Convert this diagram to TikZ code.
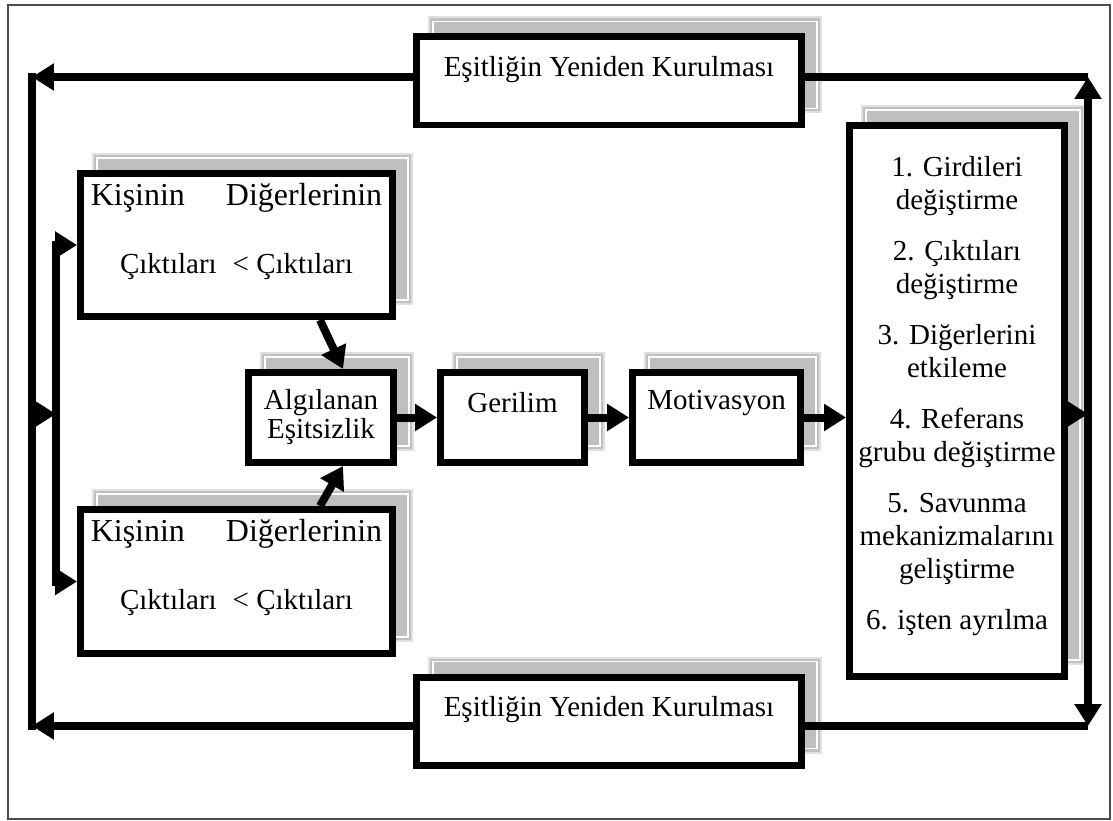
\documentclass[tikz,border=0pt]{standalone}
\usepackage{fontspec}
\setmainfont{Liberation Serif}
\usetikzlibrary{arrows.meta,calc,backgrounds}

\tikzset{
  box/.style={draw, line width=0.14cm, fill=white, inner sep=0pt},
  txt/.style={inner sep=0pt, align=center, font=\fontsize{16.5}{16.5}\selectfont},
  bigtxt/.style={inner sep=0pt, font=\fontsize{18.2}{18.2}\selectfont},
  conn/.style={line width=0.16cm},
  arr/.style={conn, -{Triangle[length=0.44cm,width=0.52cm]}},
  shade/.style={fill=black!25, draw=black!12, line width=0.04cm},
}

\begin{document}
\begin{tikzpicture}[x=0.02cm, y=-0.02cm]

   \def\px{0.02cm} % one pixel of the scan
   \def\yrow{417.5} % middle row
   \def\xkisi{236.5}

   \useasboundingbox (0,0) rectangle (1113,821);
   \draw[black!70, line width=0.03cm] (8,5) rectangle (1110,819);

   % boxes
   \node[box, minimum width=385*\px, minimum height=88*\px] (eqTop) at (609,81) {};
   \node[box, minimum width=385*\px, minimum height=88*\px] (eqBot) at (609,721) {};
   \node[box, minimum width=312*\px, minimum height=143*\px] (kisiA) at (\xkisi,245) {};
   \node[box, minimum width=312*\px, minimum height=144*\px] (kisiB) at (\xkisi,581.5) {};
   \node[box, minimum width=145*\px, minimum height=90*\px] (alg) at (321,\yrow) {};
   \node[box, minimum width=144*\px, minimum height=90*\px] (ger) at (512.5,\yrow) {};
   \node[box, minimum width=168*\px, minimum height=90*\px] (mot) at (716.5,\yrow) {};
   \node[box, minimum width=215*\px, minimum height=551*\px] (rbox) at (957,401) {};

   % shadows behind the boxes
   \begin{scope}[on background layer]
     \foreach \b in {eqTop,eqBot,kisiA,kisiB,alg,ger,mot,rbox} {
       \fill[shade] ($(\b.south west)+(16,-16)$) rectangle ($(\b.north east)+(16,-16)$);
       \draw[white, line width=0.025cm] ($(\b.south west)+(20,-20)$) rectangle ($(\b.north east)+(12,-12)$);
     }
   \end{scope}

   % texts
   \node[txt] (eqTopT) at (609,70) {Eşitliğin Yeniden Kurulması};
   \node[txt] (eqBotT) at (609,710) {Eşitliğin Yeniden Kurulması};
   \node[bigtxt] (kisiA1) at (\xkisi,198) {Kişinin\hspace{0.82cm}Diğerlerinin};
   \node[txt] (kisiA2) at (\xkisi,267) {Çıktıları\hspace{0.32cm}< Çıktıları};
   \node[bigtxt] (kisiB1) at (\xkisi,534) {Kişinin\hspace{0.82cm}Diğerlerinin};
   \node[txt] (kisiB2) at (\xkisi,603) {Çıktıları\hspace{0.32cm}< Çıktıları};
   \node[txt] (algT) at (321,\yrow) {Algılanan\\Eşitsizlik};
   \node[txt] (gerT) at (512.5,403) {Gerilim};
   \node[txt] (motT) at (716.5,403) {Motivasyon};
   \node[txt, font=\fontsize{16.5}{18.8}\selectfont] (rboxT) at (957,396)
     {1. Girdileri\\değiştirme\\[0.36cm]
      2. Çıktıları\\değiştirme\\[0.36cm]
      3. Diğerlerini\\etkileme\\[0.36cm]
      4. Referans\\grubu değiştirme\\[0.36cm]
      5. Savunma\\mekanizmalarını\\geliştirme\\[0.36cm]
      6. işten ayrılma};

   % corners of the feedback loops
   \coordinate (tl) at (32,77);
   \coordinate (bl) at (32,726);
   \coordinate (ml) at (32,414);
   \coordinate (mi) at (56,414);
   \coordinate (tr) at (1088,77);
   \coordinate (br) at (1088,726);
   \coordinate (mr) at (1088,414);

   % middle row
   \draw[arr] ([xshift=83.5*\px]kisiA.south) -- ([xshift=22*\px]alg.north);
   \draw[arr] ([xshift=83.5*\px]kisiB.north) -- ([xshift=22*\px]alg.south);
   \draw[arr] (alg.east) -- (ger.west);
   \draw[arr] (ger.east) -- (mot.west);
   \draw[arr] (mot.east) -- (mot.east -| rbox.west);

   % left loop
   \draw[arr] (eqTop.west |- tl) -- (tl);
   \draw[arr] (eqBot.west |- bl) -- (bl);
   \draw[conn, line cap=rect] (tl) -- (bl);
   \draw[arr] (ml) -- (mi);
   \draw[conn, line cap=rect] (mi |- kisiA.west) -- (mi |- kisiB.west);
   \draw[arr] (mi |- kisiA.west) -- (kisiA.west);
   \draw[arr] (mi |- kisiB.west) -- (kisiB.west);

   % right loop
   \draw[conn] (eqTop.east |- tr) -- (tr);
   \draw[conn] (eqBot.east |- br) -- (br);
   \draw[arr] (rbox.east |- mr) -- (mr);
   \draw[arr] (mr) -- (tr);
   \draw[arr] (mr) -- (br);

\end{tikzpicture}
\end{document}
